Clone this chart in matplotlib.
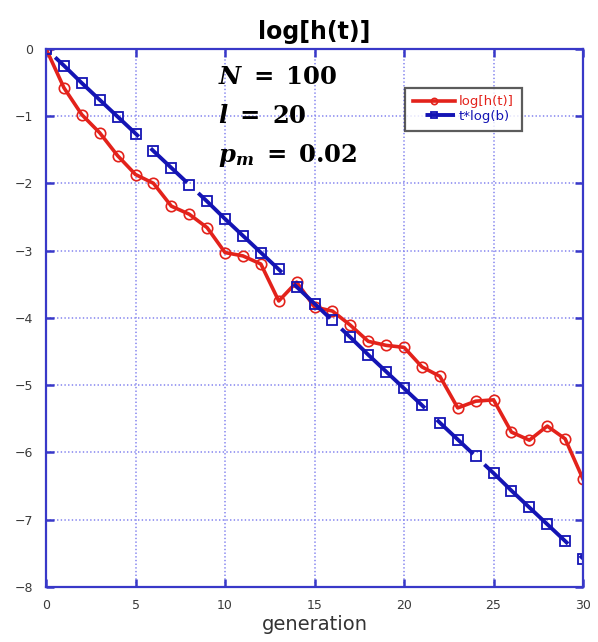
import matplotlib
matplotlib.use("Agg")
from matplotlib import pyplot as plt
import numpy as np

# data
generation = list(range(31))
log_h = [0.0, -0.58, -0.98, -1.25, -1.59, -1.87, -2.00, -2.34, -2.46, -2.66,
         -3.03, -3.08, -3.20, -3.75, -3.47, -3.84, -3.90, -4.11, -4.35, -4.41,
         -4.44, -4.73, -4.87, -5.34, -5.24, -5.22, -5.70, -5.82, -5.61, -5.80,
         -6.40]
t_log_b = [0.0, -0.25, -0.51, -0.76, -1.01, -1.26, -1.52, -1.77, -2.02, -2.27,
           -2.53, -2.78, -3.03, -3.28, -3.54, -3.79, -4.04, -4.29, -4.55, -4.80,
           -5.05, -5.30, -5.56, -5.81, -6.06, -6.31, -6.57, -6.82, -7.07, -7.32,
           -7.58]
params = [r"$\mathbfit{N}\ \mathbf{=\ 100}$",
          r"$\mathbfit{l}\ \mathbf{=\ 20}$",
          r"$\mathbfit{p}_{\mathbfit{m}}\ \mathbf{=\ 0.02}$"]

red = "#e3221b"
blue = "#1414b4"
axis_blue = "#3838c8"

plt.rcParams["lines.scale_dashes"] = False
plt.rcParams["mathtext.fontset"] = "dejavuserif"

fig = plt.figure(figsize=(5.98, 6.42), dpi=100)
ax = fig.add_axes([0.077, 0.086, 0.898, 0.838])

ax.plot(generation, log_h, color=red, lw=2.6, marker="o", ms=7.5,
        mfc="none", mec=red, mew=1.2, label="log[h(t)]")
ax.plot(generation, t_log_b, color=blue, lw=2.8,
        linestyle=(133, (83, 12, 36, 11)),
        marker="s", ms=7.5, mfc="none", mec=blue, mew=1.3, label="t*log(b)")

ax.set_xlim(0, 30)
ax.set_ylim(-8, 0)
ax.set_xticks(np.arange(0, 31, 5))
ax.set_yticks(np.arange(-8, 1, 1))
ax.set_yticklabels([str(v).replace("-", "\u2212") for v in range(-8, 1)])
ax.grid(True, color="#8c8cf0", linestyle=":", linewidth=1.2)
for s in ax.spines.values():
    s.set_color(axis_blue)
    s.set_linewidth(1.6)
ax.tick_params(direction="in", length=6, width=1.8, color=axis_blue,
               top=True, right=True, labelsize=9, labelcolor="#3a3a3a", pad=9)

ax.set_title("log[h(t)]", fontsize=17, fontweight="bold", pad=7)
ax.set_xlabel("generation", fontsize=14, color="#333333", labelpad=2)

for i, txt in enumerate(params):
    ax.text(9.6, -0.42 - 0.58 * i, txt, fontsize=17.5, va="center", ha="left")

leg = ax.legend(loc="upper left", bbox_to_anchor=(0.668, 0.928),
                fontsize=9.5, frameon=True, fancybox=False, handlelength=3.2,
                markerscale=0.6, borderpad=0.6, labelspacing=0.1,
                handletextpad=0.3, borderaxespad=0)
leg.get_frame().set_edgecolor("#333333")
leg.get_frame().set_linewidth(1.6)
for t, c in zip(leg.get_texts(), [red, blue]):
    t.set_color(c)

fig.savefig("out.png", dpi=100)
